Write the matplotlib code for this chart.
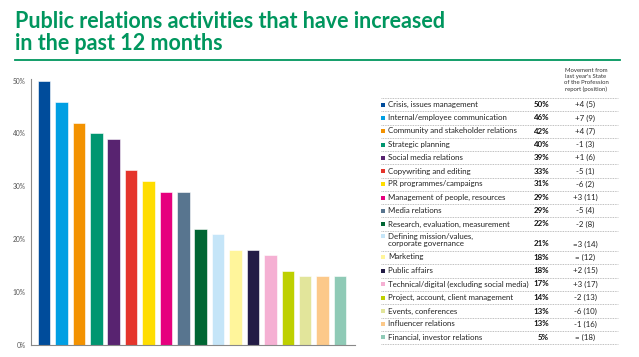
import matplotlib
matplotlib.use("Agg")
import matplotlib.pyplot as plt
from matplotlib.lines import Line2D
from matplotlib.patches import Rectangle

# Data
labels = [
    "Crisis, issues management",
    "Internal/employee communication",
    "Community and stakeholder relations",
    "Strategic planning",
    "Social media relations",
    "Copywriting and editing",
    "PR programmes/campaigns",
    "Management of people, resources",
    "Media relations",
    "Research, evaluation, measurement",
    "Defining mission/values,\ncorporate governance",
    "Marketing",
    "Public affairs",
    "Technical/digital (excluding social media)",
    "Project, account, client management",
    "Events, conferences",
    "Influencer relations",
    "Financial, investor relations",
]
bar_values = [50, 46, 42, 40, 39, 33, 31, 29, 29, 22, 21, 18, 18, 17, 14, 13, 13, 13]
table_pct = ["50%", "46%", "42%", "40%", "39%", "33%", "31%", "29%", "29%",
             "22%", "21%", "18%", "18%", "17%", "14%", "13%", "13%", "5%"]
movement = ["+4 (5)", "+7 (9)", "+4 (7)", "-1 (3)", "+1 (6)", "-5 (1)", "-6 (2)",
            "+3 (11)", "-5 (4)", "-2 (8)", "=3 (14)", "= (12)", "+2 (15)",
            "+3 (17)", "-2 (13)", "-6 (10)", "-1 (16)", "= (18)"]
colors = ["#004C9B", "#009FE3", "#F39200", "#009670", "#582370", "#E5352C",
          "#FFDD00", "#E6007E", "#58758F", "#006633", "#C5E5F8", "#FFF59B",
          "#231C46", "#F5B0D3", "#BED000", "#E2E59B", "#FCC98A", "#8FCAB6"]
yticks = [0, 10, 20, 30, 40, 50]

W, H = 639, 357
GREEN = "#00965E"
FONT = "Lato"


def fx(px):
    return px / W


def fy(py):
    return 1 - py / H


fig = plt.figure(figsize=(W / 100, H / 100), dpi=100)

# Title and rule
fig.text(fx(15), fy(28), "Public relations activities that have increased",
         fontsize=15.5, fontweight="bold", color=GREEN, family=FONT,
         va="baseline", ha="left")
fig.text(fx(15), fy(50), "in the past 12 months",
         fontsize=15.5, fontweight="bold", color=GREEN, family=FONT,
         va="baseline", ha="left")
fig.add_artist(Line2D([fx(15), fx(620)], [fy(60), fy(60)], color=GREEN, lw=1.3))

# Bar chart
ax = fig.add_axes([fx(31), 1 - 345 / H, (355 - 31) / W, (345 - 80.5) / H])
x = list(range(len(bar_values)))
ax.bar(x, bar_values, width=0.72, color=colors, edgecolor="white", linewidth=0.4)
ax.set_xlim(-0.75, 17.86)
ax.set_ylim(0, 50)
ax.set_yticks(yticks)
ax.set_yticklabels([f"{v}%" for v in yticks], fontsize=4.8, color="#555555", family=FONT)
ax.tick_params(axis="y", length=0, pad=4)
ax.set_xticks([])
for s in ["top", "right"]:
    ax.spines[s].set_visible(False)
ax.spines["left"].set_color("#888888")
ax.spines["bottom"].set_color("#888888")
ax.spines["left"].set_linewidth(0.8)
ax.spines["bottom"].set_linewidth(0.8)
ax.spines["left"].set_bounds(0, 50.3)

# Table on the right
fig.text(fx(586), fy(80), "Movement from\nlast year's State\nof the Profession\nreport (position)",
         fontsize=4.3, color="#333333", family=FONT, ha="center", va="center", linespacing=1.25)

row_y = [104.5, 118, 131, 144.5, 157.5, 171, 184, 197.5, 210.5, 224,
         240, 257, 270.5, 284, 297.5, 311, 324, 337]
row_text_y = [104.5, 118, 131, 144.5, 157.5, 171, 184, 197.5, 210.5, 224,
              244, 257, 270.5, 284, 297.5, 311, 324, 337]
sep_y = [98, 111, 124.5, 138, 151, 164.5, 177.5, 191, 204, 217.5, 230.5,
         250.5, 264, 277.5, 290.5, 304, 317.5, 330.5, 344]


def dotted(py):
    fig.add_artist(Line2D([fx(381), fx(618)], [fy(py), fy(py)], color="#AAAAAA",
                          lw=0.6, linestyle=(0, (1, 1))))


for py in sep_y:
    dotted(py)

TS = 5.7
for i, lab in enumerate(labels):
    cy = row_y[i]
    ty = row_text_y[i]
    first_y = cy - 4 if "\n" in lab else cy
    fig.add_artist(Rectangle((fx(380.5), fy(first_y + 2)), 4 / W, 4 / H,
                             transform=fig.transFigure, color=colors[i], lw=0))
    fig.text(fx(388), fy(cy), lab, fontsize=TS, color="#222222", family=FONT,
             ha="left", va="center", linespacing=1.15)
    fig.text(fx(549), fy(ty), table_pct[i], fontsize=TS, fontweight="bold",
             color="#111111", family=FONT, ha="right", va="center")
    fig.text(fx(585), fy(ty), movement[i], fontsize=TS, color="#222222",
             family=FONT, ha="center", va="center")

fig.savefig("out.png", dpi=100)
